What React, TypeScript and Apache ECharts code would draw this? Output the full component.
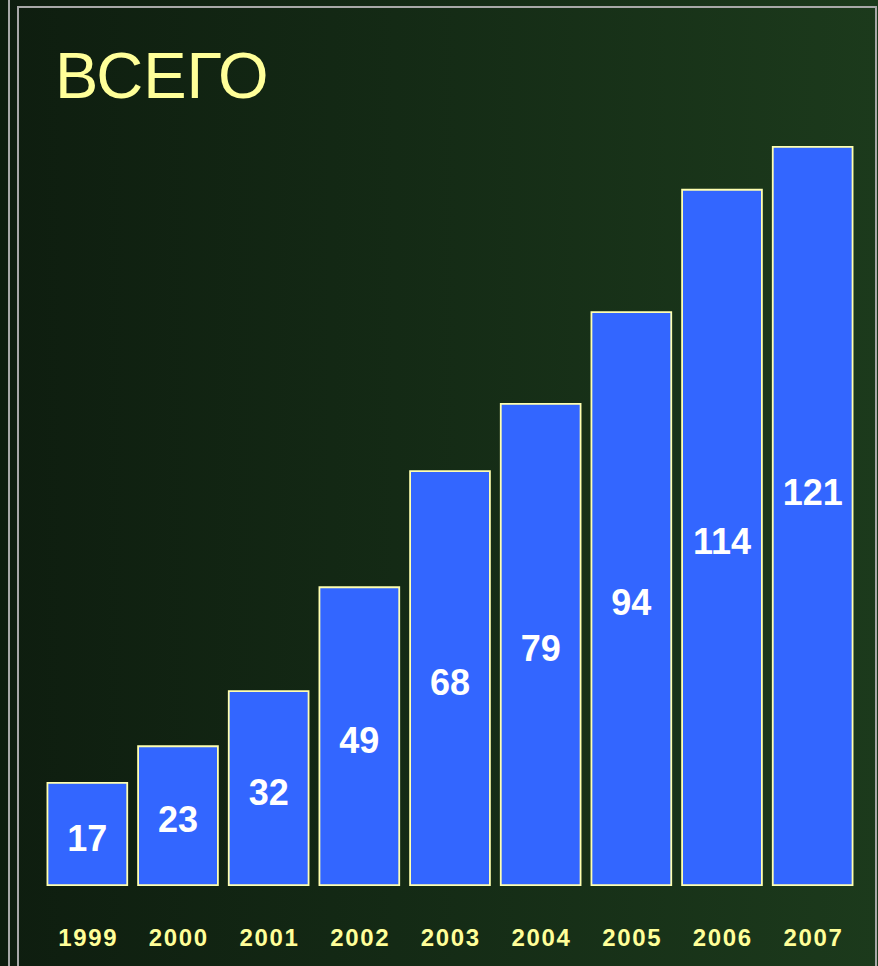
import React, { useEffect, useRef } from "react";
import * as echarts from "echarts";

const years = ["1999", "2000", "2001", "2002", "2003", "2004", "2005", "2006", "2007"];
const values = [17, 23, 32, 49, 68, 79, 94, 114, 121];
const titleText = "ВСЕГО";

export default function App() {
  const ref = useRef<HTMLDivElement>(null);
  useEffect(() => {
    if (!ref.current) return;
    const chart = echarts.init(ref.current, null, { renderer: "svg" });
    const lastIdx = values.length - 1;
    chart.setOption({
      animation: false,
      backgroundColor: "transparent",
      grid: { left: 42, right: 20, top: 91, bottom: 80, containLabel: false },
      xAxis: {
        type: "category",
        data: years,
        axisLine: { show: false },
        axisTick: { show: false },
        axisLabel: {
          interval: 0,
          hideOverlap: false,
          margin: 39,
          formatter: (v: string) => v.split("").map((c) => "{d|" + c + "}").join(""),
          rich: {
            d: {
              color: "#ffff99",
              fontFamily: "Liberation Sans",
              fontWeight: "bold",
              fontSize: 24,
              width: 15,
              align: "center",
            },
          },
        },
      },
      yAxis: { type: "value", min: 0, max: 130, show: false, splitLine: { show: false } },
      series: [
        {
          type: "bar",
          barCategoryGap: "10%",
          data: values.map((v, i) => ({
            value: v,
            label: i === lastIdx ? { offset: [0, -24] } : undefined,
          })),
          itemStyle: { color: "#3366ff", borderColor: "#ffffb0", borderWidth: 1.8 },
          label: {
            show: true,
            position: "inside",
            offset: [0, 4],
            color: "#ffffff",
            fontFamily: "Liberation Sans",
            fontWeight: "bold",
            fontSize: 36,
          },
        },
      ],
      graphic: [
        { type: "line", shape: { x1: 9, y1: 0, x2: 9, y2: 966 }, style: { stroke: "#a8a8a8", lineWidth: 2 } },
        { type: "line", shape: { x1: 18, y1: 7, x2: 18, y2: 966 }, style: { stroke: "#a8a8a8", lineWidth: 2 } },
        { type: "line", shape: { x1: 17, y1: 7, x2: 877, y2: 7 }, style: { stroke: "#a8a8a8", lineWidth: 2 } },
        { type: "line", shape: { x1: 876, y1: 7, x2: 876, y2: 966 }, style: { stroke: "#a8a8a8", lineWidth: 2 } },
        {
          type: "text",
          left: 55,
          top: 43,
          style: {
            text: titleText,
            fill: "#ffff99",
            fontFamily: "Liberation Sans",
            fontSize: 65,
          },
        },
      ],
    });
    return () => chart.dispose();
  }, []);
  return (
    <div
      ref={ref}
      style={{
        position: "fixed",
        left: 0,
        top: 0,
        width: 878,
        height: 966,
        background: "linear-gradient(to right, #0e1d0f 0%, #142a15 45%, #1c3a1c 100%)",
      }}
    />
  );
}
